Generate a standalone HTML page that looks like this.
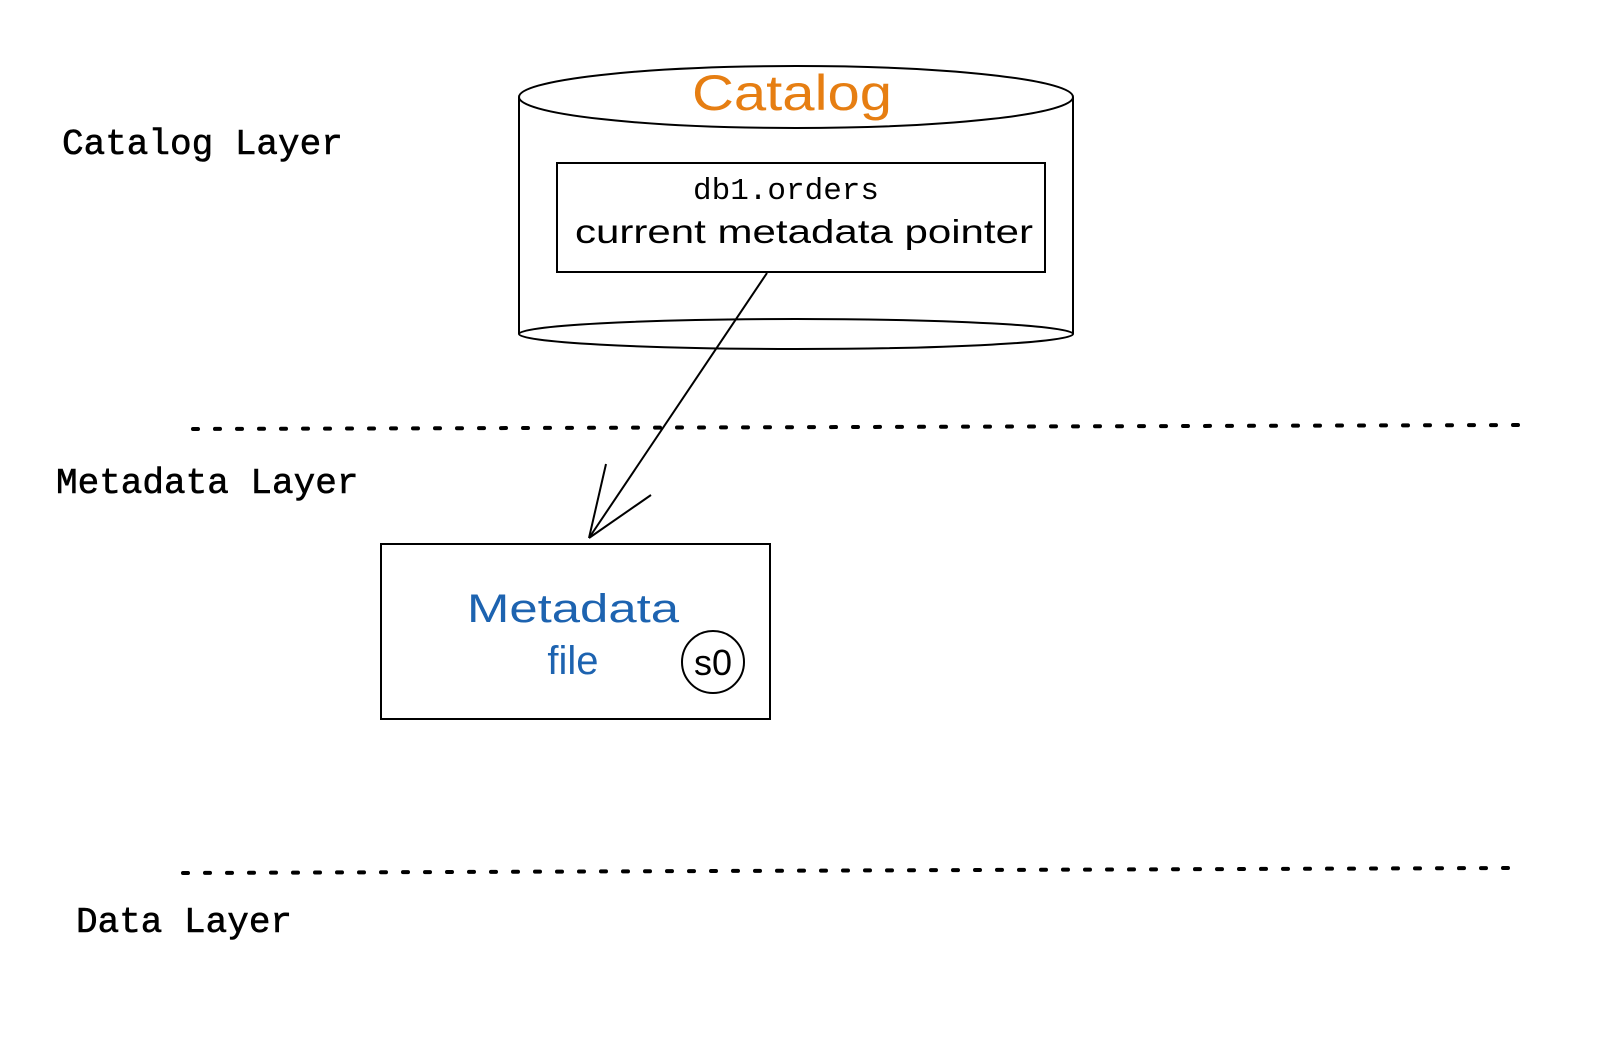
<!DOCTYPE html>
<html><head><meta charset="utf-8"><style>
html,body{margin:0;padding:0;background:#fff;}
svg{display:block}
</style></head><body>
<svg width="1600" height="1039" viewBox="0 0 1600 1039" xmlns="http://www.w3.org/2000/svg">
<g fill="none" stroke="#000" stroke-width="2">
<line x1="519" y1="97" x2="519" y2="334"/>
<line x1="1073" y1="97" x2="1073" y2="334"/>
<ellipse cx="796" cy="97" rx="277" ry="31" fill="#fff"/>
<ellipse cx="796" cy="334" rx="277" ry="15"/>
<rect x="557" y="163" width="488" height="109" fill="#fff"/>
<line x1="767" y1="273" x2="589" y2="538"/>
<line x1="606" y1="464" x2="589" y2="538"/>
<line x1="651" y1="495" x2="589" y2="538"/>
<rect x="381" y="544" width="389" height="175"/>
<circle cx="713" cy="662" r="31"/>
</g>
<g stroke="#000" stroke-width="4" stroke-dasharray="5 17" stroke-linecap="round">
<line x1="193" y1="429" x2="1518" y2="425"/>
<line x1="183" y1="873" x2="1508" y2="868"/>
</g>
<g font-family="Liberation Mono, monospace" font-size="36" fill="#000" stroke="#000" stroke-width="0.6">
<text x="62" y="154">Catalog Layer</text>
<text x="56" y="493">Metadata Layer</text>
<text x="76" y="932">Data Layer</text>
</g>
<text x="786" y="199" font-family="Liberation Mono, monospace" font-size="31" text-anchor="middle">db1.orders</text>
<text x="804" y="243" font-family="Comic Sans MS, Liberation Sans, sans-serif" font-size="33" text-anchor="middle" textLength="458" lengthAdjust="spacingAndGlyphs">current metadata pointer</text>
<text x="792" y="110" font-family="Comic Sans MS, Liberation Sans, sans-serif" font-size="50" fill="#e67e12" text-anchor="middle" textLength="200" lengthAdjust="spacingAndGlyphs">Catalog</text>
<text x="573" y="622" font-family="Comic Sans MS, Liberation Sans, sans-serif" font-size="40" fill="#1d63b0" text-anchor="middle" textLength="212" lengthAdjust="spacingAndGlyphs">Metadata</text>
<text x="573" y="674" font-family="Comic Sans MS, Liberation Sans, sans-serif" font-size="40" fill="#1d63b0" text-anchor="middle">file</text>
<text x="713" y="675" font-family="Liberation Sans, sans-serif" font-size="36" text-anchor="middle">s0</text>
</svg>
</body></html>
